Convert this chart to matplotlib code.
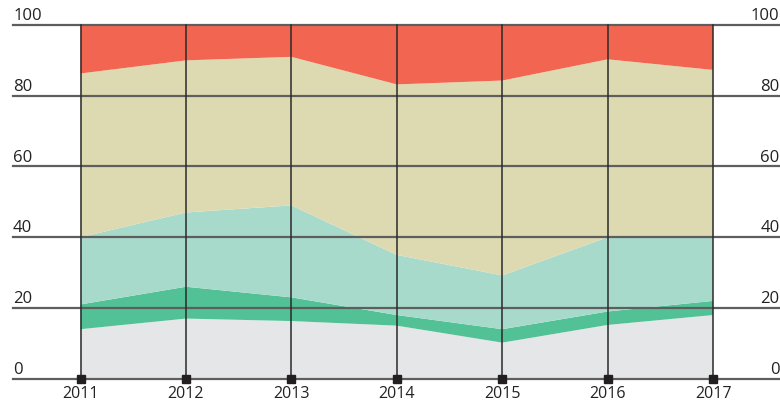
import matplotlib.pyplot as plt
import numpy as np

plt.rcParams['font.family'] = ['Open Sans', 'DejaVu Sans']

# data (share in %, stacked bottom to top)
years = [2011, 2012, 2013, 2014, 2015, 2016, 2017]
gray_part = [14, 17, 16.3, 15, 10.2, 15.2, 18]
green_top = [21, 26, 23, 18, 14, 19, 22]
teal_top = [40, 47, 49, 35, 29.2, 40, 40]
beige_top = [86.3, 90, 91, 83.2, 84.3, 90.3, 87.3]
y_ticks = [0, 20, 40, 60, 80, 100]

green_part = np.array(green_top) - np.array(gray_part)
teal_part = np.array(teal_top) - np.array(green_top)
beige_part = np.array(beige_top) - np.array(teal_top)
red_part = 100 - np.array(beige_top)

colors = ['#e5e6e8', '#52c195', '#a8dacb', '#dddab2', '#f26651']

fig = plt.figure(figsize=(7.8, 4.03), dpi=100)
ax = fig.add_axes([0, 0, 1, 1])
ax.set_xlim(2010.236, 2017.635)
ax.set_ylim(-6.87, 107.07)
ax.axis('off')

ax.stackplot(years, gray_part, green_part, teal_part, beige_part, red_part,
             colors=colors, linewidth=0)

x_left = 2010.36
x_right = 2017.635
for v in y_ticks:
    ax.plot([x_left, x_right], [v, v], color='#5e5e5e', lw=1.6, zorder=3)
    ax.text(x_left, v + 1.4, str(v), ha='left', va='baseline',
            fontsize=12, color='#222222')
    ax.text(x_right - 0.005, v + 1.4, str(v), ha='right', va='baseline',
            fontsize=12, color='#222222')

for yr in years:
    ax.plot([yr, yr], [0, 100], color='#2a2a2a', lw=1.1, zorder=4)
    ax.text(yr, -5.5, str(yr), ha='center', va='baseline',
            fontsize=11.5, color='#222222')

ax.plot(years, [0] * len(years), ls='none', marker='s', ms=6,
        color='#231f20', zorder=5, clip_on=False)

fig.savefig('out.png', dpi=100)
